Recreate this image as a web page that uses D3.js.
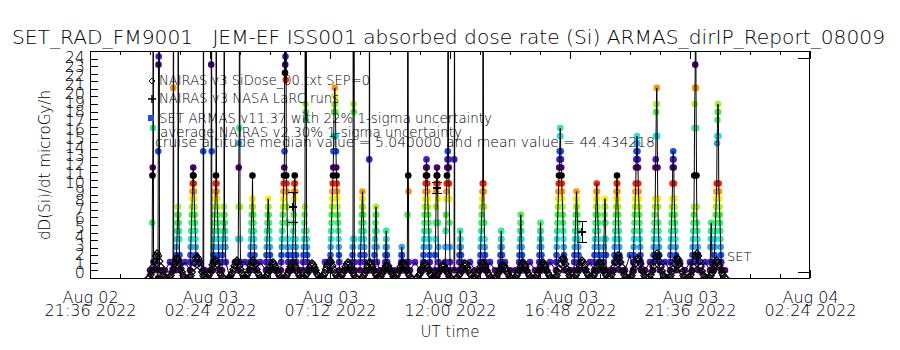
<!DOCTYPE html>
<html>
<head>
<meta charset="utf-8">
<title>SET_RAD_FM9001 JEM-EF ISS001 absorbed dose rate (Si)</title>
<script src="https://cdnjs.cloudflare.com/ajax/libs/d3/7.8.5/d3.min.js"></script>
<style>
  body { margin: 0; background: #fff; }
  svg text { font-family: "DejaVu Sans ExtraLight", "DejaVu Sans", sans-serif; font-weight: 200; fill: #000; }
</style>
</head>
<body>
<svg id="chart" width="900" height="350"></svg>
<script>
// ---------- values ----------
var xTickTimes = ["2022-08-02T21:36:00Z", "2022-08-03T02:24:00Z", "2022-08-03T07:12:00Z",
                  "2022-08-03T12:00:00Z", "2022-08-03T16:48:00Z", "2022-08-03T21:36:00Z",
                  "2022-08-04T02:24:00Z"];
var yTickLabels = [0,1,2,3,4,5,6,7,8,9,10,11,12,13,14,15,16,17,18,19,20,21,22,23,24];

// times are hours after 2022-08-03 00:00 UT, dose rates in microGy/h (axis units)
// SET ARMAS passes: start time of each pass, samples every 0.01 h (40 = off scale)
var setCadence = 0.01;
var setStart = [0.08, 0.32, 0.92, 1.04, 1.60, 2.12, 2.44, 2.52, 2.88, 3.52, 4.00, 4.64, 5.24, 5.68,
                6.12, 7.20, 8.08, 8.40, 8.76, 8.96, 9.40, 10.04, 10.28, 10.92, 11.40, 11.80, 12.16,
                12.36, 13.20, 14.00, 14.76, 15.56, 16.24, 16.96, 17.76, 18.12, 18.56, 19.32, 20.12,
                20.80, 21.68, 22.40, 22.56];
var setRuns = [
  [0.2,5.5,10.8,11.7,16.1,40,1.1,0.2],
  [-0.7,13.5,23.2,24.1,40,40,0.2],
  [0.2,20.6,40,1.1],
  [0.2,1.1,1.9,2.8,3.7,4.6,5.5,6.4,7.3,40,6.4,5.5,4.6,3.7,1.9,1.1,0.2],
  [0.2,1.1,1.9,2.8,3.7,4.6,5.5,6.4,7.3,8.2,9.0,9.9,10.8,11.7,10.8,9.9,9.0,8.2,7.3,6.4,5.5,4.6,3.7,2.8,1.9,1.1],
  [0.2,13.5,40,0.2],
  [0.2,23.2,40,13.5,0.2],
  [0.2,1.1,1.9,2.8,3.7,4.6,5.5,6.4,7.3,8.2,9.0,9.9,10.8,40,9.9,9.0,8.2,7.3,6.4,5.5,4.6,3.7,2.8,1.9,1.1],
  [0.2,1.1,1.9,2.8,3.7,4.6,5.5,6.4,7.3,40,6.4,5.5,4.6,3.7,2.8,1.1],
  [0.2,3.7,7.3,11.7,14.4,16.1,40,40,7.3,3.7,1.1],
  [0.2,1.1,1.9,2.8,3.7,4.6,5.5,6.4,7.3,8.2,10.8,8.2,7.3,6.4,5.5,4.6,3.7,2.8,1.9,1.1,0.2],
  [0.2,1.1,1.9,2.8,3.7,4.6,5.5,6.4,7.3,8.2,7.3,6.4,5.5,4.6,3.7,2.8,1.9,1.1,0.2],
  [0.2,1.1,1.9,2.8,3.7,4.6,5.5,6.4,7.3,8.2,9.0,9.9,10.8,11.7,13.5,40,22.3,23.2,24.1,21.5,40,10.8,9.9,9.0,7.3,5.5,3.7,2.8,1.9,1.1,0.2],
  [0.2,1.1,1.9,2.8,3.7,4.6,5.5,6.4,8.2,9.0,9.9,10.8,9.9,9.0,3.7,2.8,1.9,1.1],
  [0.2,1.1,1.9,2.8,3.7,4.6,5.5,6.4,7.3,40,18.8,17.9,17.0,40,4.6,3.7,2.8,1.9,1.1,0.2],
  [0.2,1.1,1.9,2.8,3.7,4.6,5.5,6.4,7.3,8.2,9.0,9.9,10.8,11.7,13.5,15.2,17.9,18.8,19.7,20.6,19.7,18.8,17.9,15.2,13.5,11.7,10.8,9.9,9.0,8.2,7.3,6.4,5.5,4.6,3.7,2.8,1.9,1.1,0.2],
  [0.2,1.1,1.9,2.8,3.7,40,18.8,17.9,40,3.7,1.1,0.2],
  [0.2,1.1,1.9,2.8,3.7,4.6,5.5,6.4,7.3,8.2,9.0,8.2,7.3,6.4,5.5,4.6,3.7,2.8,1.9,1.1,0.2],
  [0.2,12.6,40,0.2],
  [0.2,1.1,1.9,2.8,3.7,4.6,5.5,6.4,7.3,6.4,4.6,2.8,1.1],
  [0.2,1.1,1.9,2.8,3.7,4.6,3.7,2.8,1.9,1.1,0.2],
  [0.2,1.1,1.9,2.8,1.9,1.1,0.2],
  [0.2,1.1,6.4,40,40,10.8,9.0,1.1,0.2],
  [0.2,1.1,1.9,2.8,3.7,4.6,5.5,6.4,7.3,8.2,9.0,9.9,10.8,11.7,12.6,11.7,10.8,9.9,9.0,8.2,7.3,6.4,5.5,4.6,3.7,2.8,1.9,1.1,0.2],
  [0.2,1.9,3.7,5.5,7.3,9.0,9.9,10.8,11.7,10.8,9.9,8.2,5.5,2.8,1.1],
  [0.2,1.1,2.8,4.6,6.4,8.2,9.0,9.9,10.8,11.7,12.6,13.5,40,40,12.6,11.7,9.9,8.2,5.5,2.8,1.1,0.2],
  [0.2,12.6,40,0.2],
  [0.2,1.1,1.9,2.8,3.7,4.6,3.7,2.8,1.9,1.1],
  [0.2,1.1,1.9,2.8,3.7,4.6,5.5,6.4,7.3,8.2,9.0,9.9,40,40,9.9,9.0,7.3,5.5,3.7,2.8,1.9,1.1,0.2],
  [0.2,1.1,1.9,2.8,3.7,4.6,3.7,2.8,1.9,1.1,0.2],
  [0.2,1.1,1.9,2.8,3.7,4.6,5.5,6.4,5.5,4.6,3.7,2.8,1.9,1.1,0.2],
  [0.2,1.1,1.9,2.8,3.7,4.6,5.5,4.6,3.7,2.8,1.9,1.1,0.2],
  [0.2,1.1,1.9,2.8,3.7,4.6,5.5,6.4,7.3,8.2,9.0,9.9,10.8,11.7,12.6,13.5,15.2,16.1,15.2,13.5,12.6,11.7,10.8,9.9,9.0,8.2,7.3,6.4,5.5,4.6,3.7,2.8,1.9,1.1,0.2],
  [0.2,1.1,1.9,2.8,3.7,4.6,5.5,6.4,7.3,8.2,9.0,8.2,7.3,6.4,5.5,4.6,3.7,2.8,1.9,1.1,0.2],
  [0.2,1.1,1.9,2.8,3.7,4.6,5.5,6.4,7.3,8.2,9.0,9.9,9.0,8.2,7.3,6.4,5.5,4.6,3.7,2.8,1.9,1.1,0.2],
  [0.2,1.1,1.9,2.8,3.7,5.5,6.4,7.3,8.2,7.3,5.5,3.7,1.9,0.2],
  [0.2,1.1,1.9,2.8,3.7,4.6,5.5,6.4,7.3,8.2,9.0,9.9,10.8,9.9,9.0,8.2,7.3,6.4,5.5,4.6,3.7,2.8,1.9,1.1,0.2],
  [0.2,1.1,1.9,2.8,3.7,4.6,5.5,6.4,7.3,8.2,9.0,9.9,11.7,12.6,13.5,14.4,15.2,14.4,13.5,12.6,11.7,9.9,9.0,8.2,7.3,6.4,5.5,4.6,3.7,2.8,1.9,1.1,0.2],
  [0.2,1.1,1.9,2.8,3.7,4.6,5.5,6.4,7.3,8.2,11.7,12.6,15.2,17.9,18.8,20.6,18.8,15.2,11.7,8.2,7.3,5.5,4.6,3.7,2.8,1.9,1.1,0.2],
  [0.2,1.1,1.9,2.8,3.7,4.6,5.5,6.4,7.3,8.2,9.9,11.7,12.6,13.5,12.6,11.7,9.9,8.2,7.3,6.4,5.5,4.6,3.7,2.8,1.9,1.1,0.2],
  [0.2,1.1,1.9,2.8,3.7,4.6,5.5,6.4,7.3,10.8,16.1,18.8,20.6,23.2,40,40,20.6,16.1,10.8,7.3,5.5,4.6,3.7,2.8,1.9,1.1,0.2],
  [0.2,1.1,2.8,3.7,4.6,5.5,4.6,2.8,1.1],
  [0.2,1.1,1.9,2.8,3.7,4.6,5.5,6.4,7.3,8.2,9.0,9.9,14.4,15.2,17.0,17.9,18.8,17.9,15.2,9.9,9.0,8.2,7.3,6.4,5.5,4.6,3.7,2.8,1.9,1.1,0.2]
];
// SET quiet-time samples between passes, every 0.2 h from 00:00
var quietCadence = 0.2;
var setQuiet = [
  0.2,1.1,0.2,0.2,1.1,0.2,-0.7,1.1,0.2,0.2,
  1.1,0.2,0.2,1.1,0.2,0.2,-0.7,1.1,0.2,1.1,
  0.2,0.2,1.1,0.2,-0.7,0.2,1.1,0.2,0.2,1.1,
  0.2,1.1,0.2,0.2,-0.7,1.1,0.2,0.2,1.1,0.2,
  0.2,1.1,0.2,1.1,0.2,-0.7,0.2,1.1,0.2,0.2,
  1.1,0.2,0.2,1.1,0.2,0.2,1.1,-0.7,0.2,1.1,
  0.2,0.2,1.1,0.2,1.1,0.2,-0.7,0.2,1.1,0.2,
  0.2,1.1,0.2,0.2,1.1,0.2,1.1,0.2,-0.7,0.2,
  1.1,0.2,0.2,1.1,0.2,1.1,0.2,0.2,1.1,-0.7,
  0.2,1.1,0.2,0.2,1.1,0.2,1.9,0.2,1.1,0.2,
  1.1,0.2,0.2,1.1,-0.7,0.2,1.1,0.2,1.1,0.2,
  0.2,1.1,0.2,1.1,0.2,0.2
];

// NAIRAS v3 SiDose: one arch per high-latitude pass, samples every 0.05 h
var nairasCadence = 0.05;
var nairasStart = [-0.07, 0.73, 1.53, 2.25, 3.13, 3.77, 4.57, 5.37, 6.13, 6.85, 7.57, 8.45, 9.13, 9.77,
                   10.65, 11.37, 12.25, 12.97, 13.77, 14.57, 15.37, 16.17, 16.93, 17.65, 18.37,
                   19.17, 19.93, 20.73, 21.53, 22.33];
var nairasArches = [
  [-0.7,-0.6,-0.3,0.1,0.6,1.2,1.8,2.1,1.8,1.2,0.6,0.1,-0.3,-0.6,-0.7],
  [-0.7,-0.6,-0.4,0.0,0.4,0.9,1.4,1.6,1.4,0.9,0.4,0.0,-0.4,-0.6,-0.7],
  [-0.7,-0.6,-0.4,0.0,0.5,1.0,1.5,1.7,1.5,1.0,0.5,0.0,-0.4,-0.6,-0.7],
  [-0.7,-0.6,-0.4,-0.1,0.3,0.8,1.2,1.4,1.2,0.8,0.3,-0.1,-0.4,-0.6,-0.7],
  [-0.7,-0.6,-0.4,-0.1,0.3,0.7,1.1,1.3,1.1,0.7,0.3,-0.1,-0.4,-0.6,-0.7],
  [-0.7,-0.6,-0.4,-0.1,0.3,0.7,1.1,1.3,1.1,0.8,0.3,-0.1,-0.4,-0.6,-0.7],
  [-0.7,-0.6,-0.4,-0.1,0.2,0.6,0.9,1.1,0.9,0.6,0.2,-0.1,-0.4,-0.6,-0.7],
  [-0.7,-0.6,-0.4,-0.1,0.2,0.6,0.9,1.1,0.9,0.6,0.2,-0.1,-0.4,-0.6,-0.7],
  [-0.7,-0.6,-0.4,-0.2,0.2,0.5,0.8,1.0,0.8,0.5,0.2,-0.2,-0.4,-0.6,-0.7],
  [-0.7,-0.6,-0.4,-0.1,0.3,0.7,1.1,1.3,1.1,0.7,0.3,-0.1,-0.4,-0.6,-0.7],
  [-0.7,-0.6,-0.4,-0.1,0.2,0.6,0.9,1.1,0.9,0.6,0.2,-0.1,-0.4,-0.6,-0.7],
  [-0.7,-0.6,-0.4,-0.1,0.2,0.6,1.0,1.1,0.9,0.6,0.2,-0.1,-0.4,-0.6,-0.7],
  [-0.7,-0.6,-0.5,-0.2,0.1,0.4,0.7,0.8,0.7,0.4,0.1,-0.2,-0.5,-0.6,-0.7],
  [-0.7,-0.6,-0.4,-0.1,0.2,0.6,0.9,1.1,0.9,0.6,0.2,-0.1,-0.4,-0.6,-0.7],
  [-0.7,-0.6,-0.4,-0.2,0.2,0.5,0.8,1.0,0.8,0.5,0.2,-0.2,-0.4,-0.6,-0.7],
  [-0.7,-0.6,-0.5,-0.2,0.1,0.4,0.7,0.8,0.7,0.4,0.1,-0.2,-0.5,-0.6,-0.7],
  [-0.7,-0.6,-0.4,-0.2,0.2,0.5,0.8,1.0,0.8,0.5,0.2,-0.2,-0.4,-0.6,-0.7],
  [-0.7,-0.6,-0.4,-0.1,0.2,0.6,0.9,1.1,0.9,0.6,0.2,-0.1,-0.4,-0.6,-0.7],
  [-0.7,-0.6,-0.5,-0.2,0.1,0.4,0.7,0.8,0.7,0.4,0.1,-0.2,-0.5,-0.6,-0.7],
  [-0.7,-0.6,-0.4,-0.1,0.2,0.6,0.9,1.1,0.9,0.6,0.2,-0.1,-0.4,-0.6,-0.7],
  [-0.7,-0.6,-0.4,-0.1,0.2,0.6,0.9,1.1,0.9,0.6,0.2,-0.1,-0.4,-0.6,-0.7],
  [-0.7,-0.6,-0.4,0.0,0.4,0.9,1.4,1.6,1.4,0.9,0.4,0.0,-0.4,-0.6,-0.7],
  [-0.7,-0.6,-0.4,-0.1,0.3,0.7,1.1,1.3,1.1,0.7,0.3,-0.1,-0.4,-0.6,-0.7],
  [-0.7,-0.6,-0.4,-0.1,0.2,0.6,0.9,1.1,0.9,0.6,0.2,-0.1,-0.4,-0.6,-0.7],
  [-0.7,-0.6,-0.3,0.1,0.6,1.1,1.6,1.9,1.6,1.1,0.6,0.1,-0.3,-0.6,-0.7],
  [-0.7,-0.6,-0.4,0.0,0.4,0.9,1.4,1.6,1.4,0.9,0.4,0.0,-0.4,-0.6,-0.7],
  [-0.7,-0.6,-0.3,0.1,0.6,1.2,1.8,2.1,1.8,1.2,0.6,0.1,-0.3,-0.6,-0.7],
  [-0.7,-0.6,-0.4,0.0,0.4,0.9,1.4,1.6,1.4,0.9,0.4,0.0,-0.4,-0.6,-0.7],
  [-0.7,-0.6,-0.3,0.1,0.6,1.2,1.8,2.1,1.8,1.2,0.6,0.1,-0.3,-0.6,-0.7],
  [-0.7,-0.6,-0.4,-0.1,0.3,0.7,1.1,1.3,1.1,0.7,0.3,-0.1,-0.4,-0.6,-0.7]
];

// NAIRAS v3 NASA LaRC runs with error bars
var larcTimes = [5.72, 11.48, 17.28];
var larcValues = [7.25, 9.4, 4.5];
var larcErrors = [1.7, 0.6, 1.2];

var titleText = "SET_RAD_FM9001   JEM-EF ISS001 absorbed dose rate (Si) ARMAS_dirIP_Report_08009";
var legendText = ["NAIRAS v3 SiDose_00.txt SEP=0",
                  "NAIRAS v3 NASA LaRC runs",
                  "SET ARMAS v11.37 with 22% 1-sigma uncertainty",
                  "average NAIRAS v2 30% 1-sigma uncertainty",
                  "cruise altitude median value = 5.040000 and mean value = 44.434218"];

// colour of a SET sample cycles through the rainbow with its level
var levelColors = ["#000000", "#50007a", "#4a1ad8", "#1a4cf0", "#30a8f0", "#28e4dc", "#2cf0a0",
                   "#3cf070", "#48f040", "#a8f020", "#f4f000", "#ff9400", "#ff2400"];

// ---------- drawing ----------
var svg = d3.select("#chart");
var day0 = Date.UTC(2022, 7, 3);
function toDate(h) { return new Date(day0 + h * 3600000); }

var x = d3.scaleUtc()
  .domain([new Date(xTickTimes[0]), new Date(xTickTimes[xTickTimes.length - 1])])
  .range([90, 810]);
var y = d3.scaleLinear().domain([0, 24]).range([272, 57.5]);
var yMarks = d3.scaleLinear().domain([0, 30]).range([278, 51]);

function levelColor(v) {
  var k = Math.round((v + 0.725) / 0.887);
  return levelColors[((k % 13) + 13) % 13];
}

svg.append("defs").append("clipPath").attr("id", "plotClip")
  .append("rect").attr("x", 90).attr("y", 51).attr("width", 720).attr("height", 227);
var plot = svg.append("g").attr("clip-path", "url(#plotClip)");

// SET series
var setPts = [];
var spans = [];
setStart.forEach(function (t0, i) {
  setRuns[i].forEach(function (v, j) { setPts.push({t: t0 + j * setCadence, v: v}); });
  spans.push([t0 - 0.04, t0 + (setRuns[i].length - 1) * setCadence + 0.04]);
});
setQuiet.forEach(function (v, j) {
  var t = j * quietCadence;
  var inside = spans.some(function (s) { return t >= s[0] && t <= s[1]; });
  if (!inside) setPts.push({t: t, v: v});
});
setPts.sort(function (a, b) { return a.t - b.t; });

plot.selectAll("circle.set").data(setPts.filter(function (d) { return d.v < 30; }))
  .enter().append("circle").attr("class", "set")
  .attr("cx", function (d) { return x(toDate(d.t)); })
  .attr("cy", function (d) { return y(d.v); })
  .attr("r", 3.3)
  .attr("fill", function (d) { return levelColor(d.v); });

var setLine = d3.line()
  .x(function (d) { return x(toDate(d.t)); })
  .y(function (d) { return y(d.v); });
plot.append("path").attr("d", setLine(setPts))
  .attr("fill", "none").attr("stroke", "#000").attr("stroke-width", 1);

// NAIRAS diamonds
var nairasPts = [];
nairasStart.forEach(function (t0, i) {
  nairasArches[i].forEach(function (v, j) { nairasPts.push({t: t0 + j * nairasCadence, v: v}); });
});
var diamond = d3.symbol().type(d3.symbolDiamond2).size(30);
plot.selectAll("path.nairas").data(nairasPts).enter().append("path").attr("class", "nairas")
  .attr("transform", function (d) { return "translate(" + x(toDate(d.t)) + "," + y(d.v) + ")"; })
  .attr("d", diamond)
  .attr("fill", "none").attr("stroke", "#000").attr("stroke-width", 1.2);

// LaRC error bars
larcTimes.forEach(function (t, i) {
  var cx = x(toDate(t));
  var y0 = y(larcValues[i] - larcErrors[i]), y1 = y(larcValues[i] + larcErrors[i]);
  var g = plot.append("g").attr("stroke", "#000").attr("stroke-width", 1).attr("shape-rendering", "crispEdges");
  g.append("line").attr("x1", cx).attr("x2", cx).attr("y1", y0).attr("y2", y1);
  g.append("line").attr("x1", cx - 5).attr("x2", cx + 5).attr("y1", y0).attr("y2", y0);
  g.append("line").attr("x1", cx - 5).attr("x2", cx + 5).attr("y1", y1).attr("y2", y1);
  g.append("path").attr("transform", "translate(" + cx + "," + y(larcValues[i]) + ")")
    .attr("d", "M-4,0H4M0,-4V4").attr("stroke-width", 1.5);
});

// legend
var legend = svg.append("g");
var legendY = [85, 103, 123, 137, 147];
var legendX = [159, 159, 159, 160, 155];
var legendW = [211, 180, 333, 302, 500];
legendText.forEach(function (s, i) {
  legend.append("text").attr("x", legendX[i]).attr("y", legendY[i])
    .attr("font-size", 14).attr("textLength", legendW[i]).attr("lengthAdjust", "spacingAndGlyphs")
    .text(s);
});
legend.append("path").attr("transform", "translate(152,81)")
  .attr("d", d3.symbol().type(d3.symbolDiamond2).size(22))
  .attr("fill", "none").attr("stroke", "#000");
legend.append("path").attr("transform", "translate(152,99)")
  .attr("d", "M-4,0H4M0,-4V4").attr("stroke", "#000").attr("stroke-width", 1.5);
legend.append("rect").attr("x", 148).attr("y", 115).attr("width", 6).attr("height", 6).attr("fill", "#1a4cf0");

svg.append("text").attr("x", 727).attr("y", 261).attr("font-size", 13).text("SET");

// axes
var majorDates = xTickTimes.map(function (s) { return new Date(s); });
var minorDates = d3.range(0, 25).map(function (i) { return new Date(+majorDates[0] + i * 72 * 60000); });

function tickAxis(axis, vals, size, tx, ty) {
  var g = svg.append("g").attr("transform", "translate(" + tx + "," + ty + ")")
    .call(axis.tickValues(vals).tickSize(size).tickFormat(""));
  g.select(".domain").remove();
  g.selectAll("line").attr("shape-rendering", "crispEdges");
  return g;
}
tickAxis(d3.axisBottom(x), minorDates, -4, 0, 278);
tickAxis(d3.axisBottom(x), majorDates, -8, 0, 278);
tickAxis(d3.axisTop(x), minorDates, -4, 0, 51);
tickAxis(d3.axisTop(x), majorDates, -8, 0, 51);
tickAxis(d3.axisLeft(yMarks), d3.range(0, 31), -8, 90, 0);
tickAxis(d3.axisRight(y), [0, 24], -12, 810, 0);

var fmtDay = d3.utcFormat("%b %d"), fmtTime = d3.utcFormat("%H:%M %Y");
var gx = svg.append("g").attr("transform", "translate(0,278)")
  .call(d3.axisBottom(x).tickValues(majorDates).tickSize(0).tickFormat(fmtDay));
gx.select(".domain").remove();
gx.attr("font-size", 16);
gx.selectAll(".tick text").each(function (d) {
  var t = d3.select(this).text(null).attr("y", null).attr("dy", null);
  t.append("tspan").attr("x", 0).attr("y", 25).text(fmtDay(d));
  t.append("tspan").attr("x", 0).attr("y", 38).text(fmtTime(d));
});

var gy = svg.append("g").attr("transform", "translate(90,0)")
  .call(d3.axisLeft(y).tickValues(yTickLabels).tickSize(0).tickPadding(5).tickFormat(d3.format("d")));
gy.select(".domain").remove();
gy.attr("font-size", 16);

// frame
svg.append("rect").attr("x", 90.5).attr("y", 51.5).attr("width", 719).attr("height", 226.5)
  .attr("fill", "none").attr("stroke", "#000").attr("stroke-width", 1).attr("shape-rendering", "crispEdges");

// titles
svg.append("text").attr("x", 12).attr("y", 44).attr("font-size", 19)
  .attr("textLength", 873).attr("lengthAdjust", "spacingAndGlyphs")
  .style("white-space", "pre").text(titleText);
svg.append("text").attr("x", 450).attr("y", 337).attr("font-size", 15)
  .attr("text-anchor", "middle").text("UT time");
svg.append("text").attr("transform", "translate(50,165) rotate(-90)").attr("font-size", 16)
  .attr("text-anchor", "middle").attr("textLength", 150).attr("lengthAdjust", "spacingAndGlyphs")
  .text("dD(Si)/dt microGy/h");
</script>
</body>
</html>
